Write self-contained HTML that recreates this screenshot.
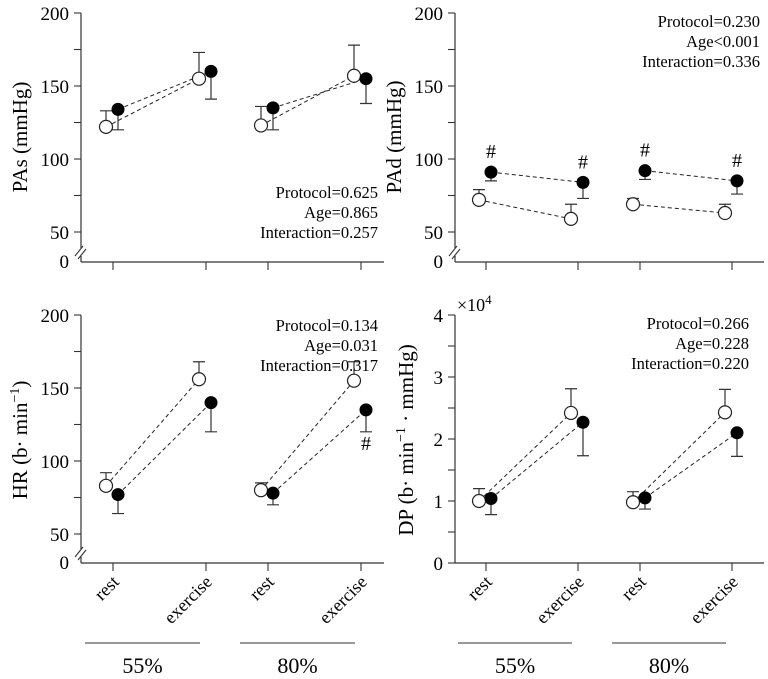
<!DOCTYPE html>
<html><head><meta charset="utf-8">
<style>
html,body{margin:0;padding:0;background:#fff;}
svg{display:block;font-family:"Liberation Serif",serif;}
</style></head>
<body>
<svg id="chart" width="768" height="679" viewBox="0 0 768 679" xmlns="http://www.w3.org/2000/svg"></svg>
<script>
// categories
const conditions = ["rest","exercise","rest","exercise"];
const groups = ["55%","80%"];
// PAs (mmHg)
const pasOpen = [122,155,123,157];
const pasOpenErr = [133,173,136,178];
const pasFilled = [134,160,135,155];
const pasFilledErr = [120,141,120,138];
// PAd (mmHg)
const padOpen = [72,59,69,63];
const padOpenErr = [79,69,73,69];
const padFilled = [91,84,92,85];
const padFilledErr = [85,73,86,76];
const padHash = [true,true,true,true];
// HR
const hrOpen = [83,156,80,155];
const hrOpenErr = [92,168,85,168];
const hrFilled = [77,140,78,135];
const hrFilledErr = [64,120,70,120];
// DP (x10^4)
const dpOpen = [1.0,2.42,0.98,2.43];
const dpOpenErr = [1.2,2.81,1.15,2.8];
const dpFilled = [1.04,2.27,1.05,2.1];
const dpFilledErr = [0.78,1.73,0.87,1.72];
const stats = [
 ["Protocol=0.625","Age=0.865","Interaction=0.257"],
 ["Protocol=0.230","Age<0.001","Interaction=0.336"],
 ["Protocol=0.134","Age=0.031","Interaction=0.317"],
 ["Protocol=0.266","Age=0.228","Interaction=0.220"]
];
const bpTicks = [50,100,150,200];
const dpTicks = [0,1,2,3,4];

const NS="http://www.w3.org/2000/svg";
const svg=document.getElementById('chart');
function mk(tag,attrs,parent,txt){const e=document.createElementNS(NS,tag);for(const k in attrs)e.setAttribute(k,attrs[k]);if(txt!==undefined)e.textContent=txt;(parent||svg).appendChild(e);return e;}

function panel(cfg){
  const g=mk('g',{});
  
  
  const ax=cfg.ax, base=cfg.base;
  const yS = cfg.yS;
  const xa=mk('line',{x1:ax,y1:base,x2:cfg.xEnd,y2:base,stroke:'#333','stroke-width':1.2},g);
  
  
  const ya=mk('line',{x1:ax,y1:cfg.yTop,x2:ax,y2:cfg.brk?cfg.brkY:base,stroke:'#333','stroke-width':1.2},g);
  
  
  if(cfg.brk){
    mk('line',{x1:ax,y1:cfg.brkY+8,x2:ax,y2:base,stroke:'#333','stroke-width':1.2},g);
    const b=mk('path',{d:`M${ax-6},${cfg.brkY+8} L${ax+2},${cfg.brkY-2} M${ax-3},${cfg.brkY+11} L${ax+5},${cfg.brkY+1}`,stroke:'#333','stroke-width':1.1,fill:'none'},g);
    
    
    const z=mk('text',{x:ax-12,y:base+6,'text-anchor':'end','font-size':19},g,'0');
    
    
  }
  cfg.ticks.forEach((t,i)=>{
    const y=yS(t);
    mk('line',{x1:ax-7,y1:y,x2:ax,y2:y,stroke:'#333','stroke-width':1.1},g);
    const tl=mk('text',{x:ax-12,y:y+7,'text-anchor':'end','font-size':19},g,String(t));
    
    
    if(i<cfg.ticks.length-1){const ym=yS((t+cfg.ticks[i+1])/2);mk('line',{x1:ax-7,y1:ym,x2:ax,y2:ym,stroke:'#333','stroke-width':1.1},g);}
  });
  cfg.xt.forEach((x,i)=>{mk('line',{x1:x,y1:base,x2:x,y2:base+8,stroke:'#333','stroke-width':1.1},g);});
  const yt=mk('text',{x:0,y:0,'text-anchor':'middle','font-size':21,transform:`translate(${cfg.titleX},${cfg.titleY}) rotate(-90)`},g);
  yt.innerHTML=cfg.title;
  
  
  const oX=cfg.xt.map(x=>x-7), fX=cfg.xt.map(x=>x+5);
  [[0,1],[2,3]].forEach(([a,b])=>{
    const l1=mk('line',{x1:oX[a],y1:yS(cfg.open[a]),x2:oX[b],y2:yS(cfg.open[b]),stroke:'#222','stroke-width':1,'stroke-dasharray':'4,3'},g);
    
    
    const l2=mk('line',{x1:fX[a],y1:yS(cfg.filled[a]),x2:fX[b],y2:yS(cfg.filled[b]),stroke:'#222','stroke-width':1,'stroke-dasharray':'4,3'},g);
    
    
  });
  for(let i=0;i<4;i++){
    const eo=mk('path',{d:`M${oX[i]},${yS(cfg.open[i])} V${yS(cfg.openErr[i])} M${oX[i]-6},${yS(cfg.openErr[i])} H${oX[i]+6}`,stroke:'#333','stroke-width':1.2,fill:'none'},g);
    
    
    const ef=mk('path',{d:`M${fX[i]},${yS(cfg.filled[i])} V${yS(cfg.filledErr[i])} M${fX[i]-6},${yS(cfg.filledErr[i])} H${fX[i]+6}`,stroke:'#333','stroke-width':1.2,fill:'none'},g);
    
    
    const co=mk('circle',{cx:oX[i],cy:yS(cfg.open[i]),r:6.5,fill:'#fff',stroke:'#222','stroke-width':1.2},g);
    
    
    const cf=mk('circle',{cx:fX[i],cy:yS(cfg.filled[i]),r:6.5,fill:'#000'},g);
    
    
    if(cfg.hashAbove && cfg.hashAbove[i]){
      const h=mk('text',{x:fX[i],y:yS(cfg.filled[i])-14,'text-anchor':'middle','font-size':20},g,'#');
      
      
    }
    if(cfg.hashBelow && cfg.hashBelow[i]){
      const h=mk('text',{x:fX[i],y:yS(cfg.filledErr[i])+18,'text-anchor':'middle','font-size':20},g,'#');
      
      
    }
  }
  cfg.stats.forEach((s,i)=>{
    const t=mk('text',{x:cfg.statX,y:cfg.statY+i*20,'text-anchor':'end','font-size':16.5},g,s);
    
    
  });
  if(cfg.xlabels){
    cfg.xt.forEach((x,i)=>{
      const t=mk('text',{x:0,y:0,'text-anchor':'end','font-size':18,transform:`translate(${x+7},${base+20}) rotate(-45)`},g,conditions[i]);
      
      
    });
    [[0,1],[2,3]].forEach(([a,b],gi)=>{
      const x1=cfg.xt[a]-28,x2=cfg.xt[b]-6;
      const l=mk('line',{x1:x1,y1:643,x2:x2,y2:643,stroke:'#333','stroke-width':1},g);
      
      
      const t=mk('text',{x:(x1+x2)/2,y:673,'text-anchor':'middle','font-size':22},g,groups[gi]);
      
      
    });
  }
}
function bpScale(top){return v=>top+(200-v)*73/50;}
panel({name:'pas-panel',ax:81,base:262,xEnd:384,yTop:13,brk:true,brkY:248,ticks:bpTicks,yS:bpScale(13),xt:[113,206,268,361],
  title:'PAs (mmHg)',titleX:27,titleY:137,open:pasOpen,openErr:pasOpenErr,filled:pasFilled,filledErr:pasFilledErr,stats:stats[0],statX:378,statY:198});
panel({name:'pad-panel',ax:455,base:262,xEnd:764,yTop:13,brk:true,brkY:248,ticks:bpTicks,yS:bpScale(13),xt:[486,578,640,732],
  title:'PAd (mmHg)',titleX:401,titleY:137,open:padOpen,openErr:padOpenErr,filled:padFilled,filledErr:padFilledErr,hashAbove:padHash,stats:stats[1],statX:760,statY:27});
panel({name:'hr-panel',ax:81,base:563,xEnd:384,yTop:315,brk:true,brkY:549,ticks:bpTicks,yS:bpScale(315),xt:[113,206,268,361],
  title:'HR (b· min<tspan dy="-8" font-size="14">−1</tspan><tspan dy="8">)</tspan>',titleX:27,titleY:440,open:hrOpen,openErr:hrOpenErr,filled:hrFilled,filledErr:hrFilledErr,hashBelow:[false,false,false,true],stats:stats[2],statX:378,statY:331,xlabels:true});
panel({name:'dp-panel',ax:455,base:563,xEnd:764,yTop:315,brk:false,ticks:dpTicks,yS:v=>563-v*62,xt:[486,578,640,732],
  title:'DP (b· min<tspan dy="-8" font-size="14">−1</tspan><tspan dy="8"> · mmHg)</tspan>',titleX:413,titleY:440,open:dpOpen,openErr:dpOpenErr,filled:dpFilled,filledErr:dpFilledErr,stats:stats[3],statX:749,statY:329,xlabels:true});
const ex=mk('text',{x:457,y:311,'font-size':18});
ex.innerHTML='×10<tspan dy="-7" font-size="13">4</tspan>';


</script>
</body></html>
